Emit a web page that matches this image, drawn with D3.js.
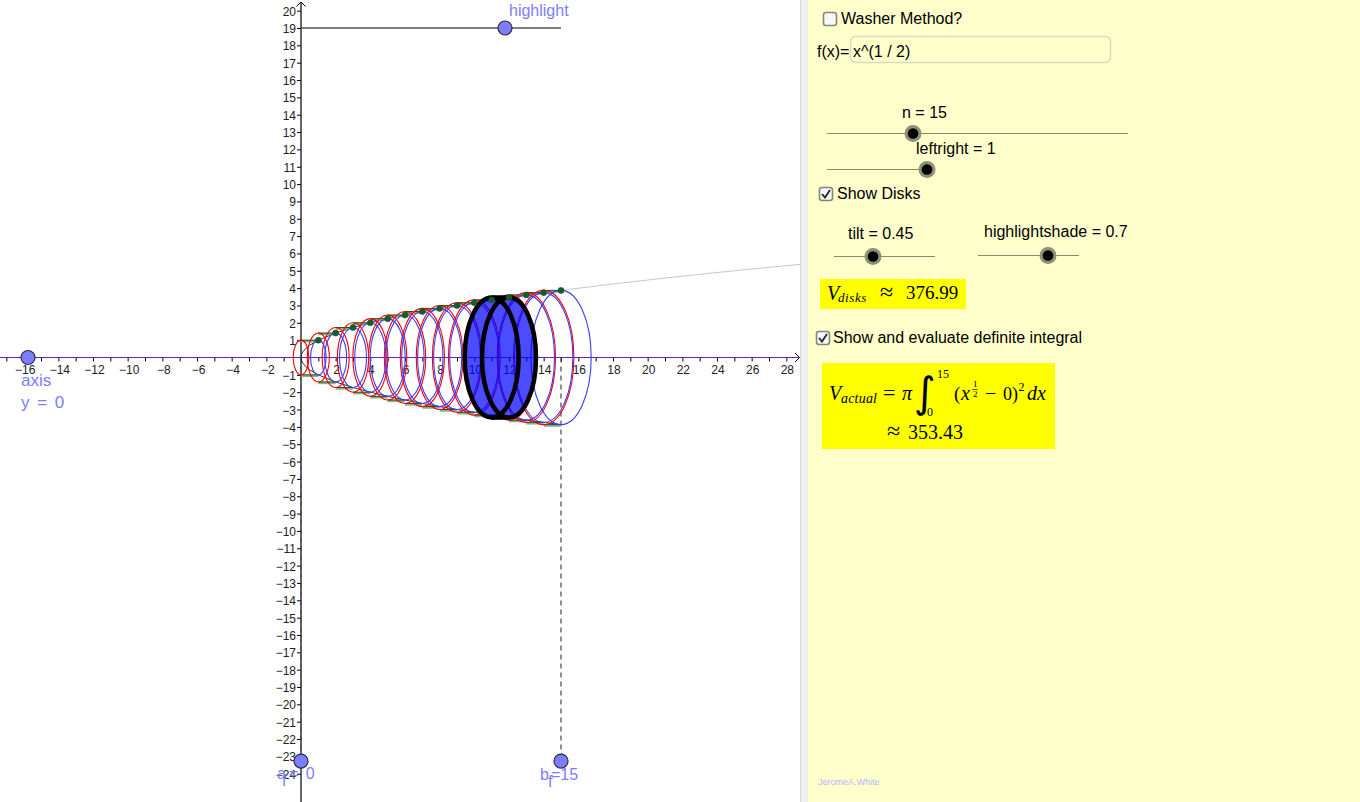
<!DOCTYPE html>
<html>
<head>
<meta charset="utf-8">
<script src="https://cdn.jsdelivr.net/npm/d3@7"></script>
<style>
  html, body { margin: 0; padding: 0; background: #fff; overflow: hidden; }
  svg { display: block; }
  text { font-family: "Liberation Sans", Arial, sans-serif; }
  .math { font-family: "Liberation Serif", serif; fill: #000; }
</style>
</head>
<body>
<svg id="chart" width="1360" height="802"></svg>
<script>
// Values
var diskEnds = [1, 2, 3, 4, 5, 6, 7, 8, 9, 10, 11, 12, 13, 14, 15];
var diskRadii = [1, 1.41, 1.73, 2, 2.24, 2.45, 2.65, 2.83, 3, 3.16, 3.32, 3.46, 3.61, 3.74, 3.87];
var curveX = [0, 0.05, 0.1, 0.25, 0.5, 1, 2, 3, 4, 5, 6, 7, 8, 9, 10, 11, 12, 13, 14, 15];
var curveY = [0, 0.22, 0.32, 0.5, 0.71, 1, 1.41, 1.73, 2, 2.24, 2.45, 2.65, 2.83, 3, 3.16, 3.32, 3.46, 3.61, 3.74, 3.87];
var curveTailX = [15, 18, 21, 24, 27, 28.8];
var curveTailY = [3.87, 4.24, 4.58, 4.9, 5.2, 5.37];
var xTickLabels = [-16, -14, -12, -10, -8, -6, -4, -2, 2, 4, 6, 8, 10, 12, 14, 16, 18, 20, 22, 24, 26, 28];
var xTickMarks = d3.range(-17, 29);
var yTickLabels = [20, 19, 18, 17, 16, 15, 14, 13, 12, 11, 10, 9, 8, 7, 6, 5, 4, 3, 2, 1, -1, -2, -3, -4, -5, -6, -7, -8, -9, -10, -11, -12, -13, -14, -15, -16, -17, -18, -19, -20, -21, -22, -23, -24];
var tilt = 0.45;
var highlightDisk = 12;
var highlightShade = 0.7;

var svg = d3.select("#chart");
var x = d3.scaleLinear().domain([0, 15]).range([301, 561]);
var y = d3.scaleLinear().domain([0, 19]).range([357.5, 28]);
var minus = function(v) { return String(v).replace("-", "\u2212"); };
var blueLabel = "#7d7dff";

// Plot background and side panel
svg.append("rect").attr("x", 0).attr("y", 0).attr("width", 800).attr("height", 802).attr("fill", "#fff");
svg.append("rect").attr("x", 800).attr("y", 0).attr("width", 8).attr("height", 802).attr("fill", "#f0f0f0");
svg.append("line").attr("x1", 800.5).attr("x2", 800.5).attr("y1", 0).attr("y2", 802).attr("stroke", "#d8d8d8").attr("stroke-width", 1);
svg.append("rect").attr("x", 808).attr("y", 0).attr("width", 552).attr("height", 802).attr("fill", "#ffffcc");

// Axes
var xAxis = d3.axisBottom(x).tickValues(xTickMarks).tickSize(4).tickFormat("");
svg.append("g").attr("transform", "translate(0," + y(0) + ")").call(xAxis)
  .call(g => g.select(".domain").remove());
var yAxis = d3.axisLeft(y).tickValues(yTickLabels).tickSize(4).tickFormat("");
svg.append("g").attr("transform", "translate(" + x(0) + ",0)").call(yAxis)
  .call(g => g.select(".domain").remove());

svg.append("g").selectAll("text").data(xTickLabels).join("text")
  .attr("x", d => x(d) + (d < 0 ? 1.5 : 1))
  .attr("y", y(0) + 16)
  .attr("text-anchor", "middle")
  .attr("font-size", 12)
  .attr("fill", "#222")
  .text(minus);
svg.append("g").selectAll("text").data(yTickLabels).join("text")
  .attr("x", x(0) - 5)
  .attr("y", d => y(d) + 5)
  .attr("text-anchor", "end")
  .attr("font-size", 12)
  .attr("fill", "#222")
  .text(minus);

svg.append("line").attr("x1", x(0)).attr("x2", x(0)).attr("y1", 2).attr("y2", 802).attr("stroke", "#000").attr("stroke-width", 1.2);
svg.append("path").attr("d", "M296.5,6.5L301,2L305.5,6.5").attr("fill", "none").attr("stroke", "#000");
svg.append("path").attr("d", "M795,353L799.5,357.5L795,362").attr("fill", "none").attr("stroke", "#000");

// The axis of rotation sits over the x axis
svg.append("line").attr("x1", 0).attr("x2", 799).attr("y1", y(0)).attr("y2", y(0)).attr("stroke", "#6a1fc0").attr("stroke-width", 1);

// Dashed lines up from the a and b points
svg.append("line").attr("x1", x(0)).attr("x2", x(0)).attr("y1", y(0)).attr("y2", 761)
  .attr("stroke", "#444").attr("stroke-dasharray", "5,4");
svg.append("line").attr("x1", x(15)).attr("x2", x(15)).attr("y1", y(0)).attr("y2", 761)
  .attr("stroke", "#444").attr("stroke-width", 1.2).attr("stroke-dasharray", "5,4");

// Highlight slider line
svg.append("line").attr("x1", x(0)).attr("x2", x(15)).attr("y1", y(19)).attr("y2", y(19))
  .attr("stroke", "#555").attr("stroke-width", 1.6);

// f(x) and its mirror image
var curveLine = d3.line().x(d => x(d[0])).y(d => y(d[1]));
var upper = d3.zip(curveX, curveY);
var lower = d3.zip(curveX, curveY.map(d => -d));
svg.append("path").attr("d", curveLine(upper)).attr("fill", "none").attr("stroke", "#333");
svg.append("path").attr("d", curveLine(lower)).attr("fill", "none").attr("stroke", "#333");
svg.append("path").attr("d", curveLine(d3.zip(curveTailX, curveTailY))).attr("fill", "none").attr("stroke", "#c8c8c8");

// Green disk edges, top and bottom
var disks = d3.zip(diskEnds, diskRadii);
[1, -1].forEach(function(sign) {
  var edges = svg.append("g");
  edges.selectAll(".shade").data(disks).join("line").attr("class", "shade")
    .attr("x1", d => x(d[0] - 1)).attr("x2", d => x(d[0]))
    .attr("y1", d => y(sign * d[1]) + 1).attr("y2", d => y(sign * d[1]) + 1)
    .attr("stroke", "#8fae8f").attr("stroke-width", 2.4);
  edges.selectAll(".edge").data(disks).join("line").attr("class", "edge")
    .attr("x1", d => x(d[0] - 1)).attr("x2", d => x(d[0]))
    .attr("y1", d => y(sign * d[1])).attr("y2", d => y(sign * d[1]))
    .attr("stroke", "#006400").attr("stroke-width", 1);
});

// Left faces in red, right faces in blue
svg.append("g").selectAll("ellipse").data(disks).join("ellipse")
  .attr("cx", d => x(d[0] - 1)).attr("cy", y(0))
  .attr("rx", d => x(tilt * d[1]) - x(0)).attr("ry", d => y(0) - y(d[1]))
  .attr("fill", "none").attr("stroke", "#ff0000").attr("stroke-width", 1.1);
svg.append("g").selectAll("ellipse").data(disks).join("ellipse")
  .attr("cx", d => x(d[0])).attr("cy", y(0))
  .attr("rx", d => x(tilt * d[1]) - x(0)).attr("ry", d => y(0) - y(d[1]))
  .attr("fill", "none").attr("stroke", "#3c3cff").attr("stroke-width", 1.1);

// Highlighted disk fill goes over the thin outlines
var hl = disks[highlightDisk - 1];
var hlFill = svg.append("g").attr("opacity", highlightShade);
[hl[0] - 1, hl[0]].forEach(function(c) {
  hlFill.append("ellipse")
    .attr("cx", x(c)).attr("cy", y(0))
    .attr("rx", x(tilt * hl[1]) - x(0)).attr("ry", y(0) - y(hl[1]))
    .attr("fill", "#0000ff");
});
hlFill.append("rect")
  .attr("x", x(hl[0] - 1)).attr("width", x(hl[0]) - x(hl[0] - 1))
  .attr("y", y(hl[1])).attr("height", y(-hl[1]) - y(hl[1]))
  .attr("fill", "#0000ff");

// Black outline of the highlighted disk
[hl[0] - 1, hl[0]].forEach(function(c) {
  svg.append("ellipse")
    .attr("cx", x(c)).attr("cy", y(0))
    .attr("rx", x(tilt * hl[1]) - x(0)).attr("ry", y(0) - y(hl[1]))
    .attr("fill", "none").attr("stroke", "#000").attr("stroke-width", 4.5);
});
[1, -1].forEach(function(sign) {
  svg.append("line")
    .attr("x1", x(hl[0] - 1)).attr("x2", x(hl[0]))
    .attr("y1", y(sign * hl[1])).attr("y2", y(sign * hl[1]))
    .attr("stroke", "#000").attr("stroke-width", 4.5);
});

// Sample points on the curve
svg.append("g").selectAll("circle").data(disks).join("circle")
  .attr("cx", d => x(d[0])).attr("cy", d => y(d[1])).attr("r", 3)
  .attr("fill", "#0f5f2c").attr("stroke", "#264a35").attr("stroke-width", 0.6);

// Draggable blue points
function bluePoint(px, py) {
  svg.append("circle").attr("cx", x(px)).attr("cy", y(py)).attr("r", 7)
    .attr("fill", "#7d7dff").attr("stroke", "#2b2b40").attr("stroke-width", 1.2);
}
bluePoint(-15.75, 0);
bluePoint(0, -23.27);
bluePoint(15, -23.27);
bluePoint(11.77, 19);

function blueText(str, px, py, size, spacing) {
  svg.append("text").attr("x", px).attr("y", py).attr("font-size", size || 16)
    .attr("word-spacing", spacing || 0)
    .attr("fill", blueLabel).text(str);
}
blueText("highlight", 509, 16);
blueText("axis", 21, 386, 17);
blueText("y = 0", 21, 408, 17, 3);
blueText("a", 277, 779);
blueText("f", 282, 786);
blueText("= 0", 289, 779, 16, 3);
blueText("b", 540, 780);
blueText("f", 548, 787);
blueText("=15", 551, 780);

// Side panel widgets
function label(str, px, py) {
  svg.append("text").attr("x", px).attr("y", py).attr("font-size", 16).attr("fill", "#000").text(str);
}
function checkbox(px, py, checked) {
  svg.append("rect").attr("x", px + 0.5).attr("y", py + 0.5).attr("width", 13).attr("height", 13).attr("rx", 2.5)
    .attr("fill", "#f8f8f8").attr("stroke", "#858578").attr("stroke-width", 1.6);
  if (checked) {
    svg.append("path")
      .attr("d", "M" + (px + 3) + "," + (py + 7) + "l3,3.5l5,-7.5")
      .attr("fill", "none").attr("stroke", "#222").attr("stroke-width", 1.8);
  }
}
function slider(str, labelX, labelY, x1, x2, lineY, knobX) {
  label(str, labelX, labelY);
  svg.append("line").attr("x1", x1).attr("x2", x2).attr("y1", lineY + 0.5).attr("y2", lineY + 0.5).attr("stroke", "#8a8a6a");
  svg.append("circle").attr("cx", knobX).attr("cy", lineY + 0.5).attr("r", 8.5).attr("fill", "#8f8f78");
  svg.append("circle").attr("cx", knobX).attr("cy", lineY + 0.5).attr("r", 5.3).attr("fill", "#000");
}

checkbox(823, 12, false);
label("Washer Method?", 841, 24);
label("f(x)=", 817, 57);
svg.append("rect").attr("x", 850.5).attr("y", 36.5).attr("width", 260).attr("height", 26).attr("rx", 5)
  .attr("fill", "#ffffcc").attr("stroke", "#d9d9c0").attr("stroke-width", 1.5);
label("x^(1 / 2)", 853, 57);

slider("n = 15", 902, 118, 827, 1128, 133, 913);
slider("leftright = 1", 916, 154, 827, 928, 169, 927);
checkbox(819, 187, true);
label("Show Disks", 837, 199);
slider("tilt = 0.45", 848, 239, 834, 935, 256, 873);
slider("highlightshade = 0.7", 984, 237, 978, 1079, 255, 1048);

// V disks box
svg.append("rect").attr("x", 820).attr("y", 279).attr("width", 146).attr("height", 30).attr("fill", "#ffff00");
function math(str, px, py, size, italic, font) {
  var t = svg.append("text").attr("class", "math").attr("x", px).attr("y", py).attr("font-size", size)
    .attr("font-style", italic ? "italic" : "normal").text(str);
  if (font) t.style("font-family", font);
  return t;
}
math("V", 827, 300, 20, true);
math("disks", 838, 302, 13, true).attr("letter-spacing", 0.6);
math("\u2248", 880, 300, 24, false);
math("376.99", 906, 299, 19, false);

checkbox(816, 331, true);
label("Show and evaluate definite integral", 833, 343);

// V actual box
svg.append("rect").attr("x", 822).attr("y", 363).attr("width", 233).attr("height", 86).attr("fill", "#ffff00");
math("V", 829, 400, 20, true);
math("actual", 841, 403, 14, true).attr("letter-spacing", 0.2);
math("=", 883, 400, 22, false);
math("\u03c0", 902, 400, 20, true);
math("\u222b", 914, 407, 42, false, "DejaVu Sans");
math("15", 937, 378, 12, false);
math("0", 927, 416, 12, false);
math("(", 954, 400, 19, false);
math("x", 961, 400, 20, true);
math("1", 973, 387, 9, false);
svg.append("line").attr("x1", 972.5).attr("x2", 977.5).attr("y1", 389.5).attr("y2", 389.5).attr("stroke", "#000").attr("stroke-width", 0.7);
math("2", 973, 397, 9, false);
math("\u2212", 985, 400, 20, false);
math("0)", 1003, 400, 18, false);
math("2", 1018.5, 391, 12, false);
math("dx", 1027, 400, 20, true);
math("\u2248", 887, 439, 24, false);
math("353.43", 908, 439, 20, false);

svg.append("text").attr("x", 818).attr("y", 785).attr("font-size", 9).attr("fill", "#b4b4ff").text("JeromeA.White");
</script>
</body>
</html>
